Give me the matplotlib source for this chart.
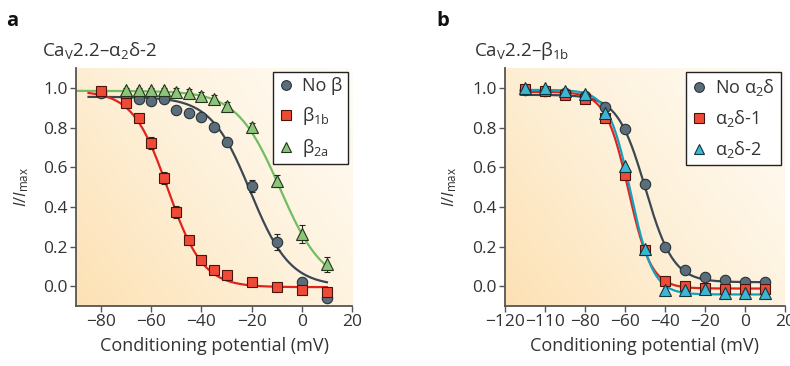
import numpy as np
import matplotlib
matplotlib.use('Agg')
import matplotlib.pyplot as plt
from matplotlib.colors import LinearSegmentedColormap
from matplotlib.lines import Line2D

plt.rcParams['font.family'] = ['Open Sans', 'DejaVu Sans']
plt.rcParams['mathtext.fontset'] = 'custom'
plt.rcParams['mathtext.rm'] = 'Open Sans'
plt.rcParams['mathtext.it'] = 'Open Sans:italic'

# ---- panel a : CaV2.2-a2d-2 ----
a_v = [-80, -70, -65, -60, -55, -50, -45, -40, -35, -30, -20, -10, 0, 10]
a_nob = [0.973, 0.952, 0.944, 0.935, 0.944, 0.887, 0.875, 0.853, 0.803, 0.726, 0.507, 0.223, 0.022, -0.06]
a_nob_err = [0.01, 0.015, 0.015, 0.01, 0.01, 0.01, 0.01, 0.01, 0.015, 0.02, 0.03, 0.04, 0.015, 0.02]
a_b1b = [0.986, 0.924, 0.848, 0.721, 0.547, 0.375, 0.233, 0.132, 0.081, 0.054, 0.023, -0.004, -0.017, -0.03]
a_b1b_err = [0.01, 0.015, 0.01, 0.03, 0.03, 0.03, 0.015, 0.02, 0.01, 0.01, 0.01, 0.01, 0.01, 0.01]
a_v2 = [-70, -65, -60, -55, -50, -45, -40, -35, -30, -20, -10, 0, 10]
a_b2a = [0.991, 0.991, 0.991, 0.991, 0.981, 0.975, 0.961, 0.944, 0.910, 0.801, 0.530, 0.262, 0.110]
a_b2a_err = [0.01, 0.01, 0.01, 0.01, 0.02, 0.02, 0.02, 0.02, 0.02, 0.02, 0.03, 0.045, 0.037]

# Boltzmann fit parameters (top, bottom, V1/2, k)
a_fit_nob = (0.955, 0.0, -20.5, 7.9)
a_fit_b1b = (0.985, -0.005, -53.4, 7.0)
a_fit_b2a = (0.985, 0.0, -8.7, 8.6)

# ---- panel b : CaV2.2-b1b ----
b_v = [-110, -100, -90, -80, -70, -60, -50, -40, -30, -20, -10, 0, 10]
b_noa = [0.99, 0.985, 0.975, 0.96, 0.904, 0.793, 0.513, 0.198, 0.081, 0.047, 0.03, 0.022, 0.022]
b_a1 = [0.995, 0.983, 0.966, 0.944, 0.848, 0.562, 0.18, 0.025, 0.003, -0.007, -0.014, -0.014, -0.014]
b_a2 = [0.998, 1.0, 0.983, 0.97, 0.874, 0.604, 0.185, -0.02, -0.02, -0.015, -0.035, -0.035, -0.035]

b_fit_noa = (0.965, 0.02, -49.7, 7.0)
b_fit_a1 = (0.98, -0.012, -58.2, 5.7)
b_fit_a2 = (0.99, -0.042, -57.1, 5.6)

b_xticks = [-120, -100, -80, -60, -40, -20, 0, 20]
b_xticklabels = ['\u2212120', '\u2212110', '\u221280', '\u221260', '\u221240', '\u221220', '0', '20']


def boltz(v, p):
    top, bot, vh, k = p
    return bot + (top - bot) / (1 + np.exp((v - vh) / k))


gray_f, gray_e, gray_l = '#5c6d7a', '#26323b', '#3a4852'
red_f, red_e, red_l = '#ee4a36', '#4a140c', '#e2231b'
green_f, green_e, green_l = '#8dc47a', '#22331d', '#72bd62'
cyan_f, cyan_e, cyan_l = '#3cb6d2', '#0f3640', '#16a0bf'

bg = LinearSegmentedColormap.from_list('bg', ['#fde1b4', '#fef1da', '#fffcf7'])
txt = '#333333'


def style_ax(ax):
    gx, gy = np.meshgrid(np.linspace(0, 1, 200), np.linspace(0, 1, 200))
    grad = (gx * 0.6 + gy * 0.4)
    ax.imshow(grad, extent=[0, 1, 0, 1], transform=ax.transAxes, cmap=bg,
              aspect='auto', origin='lower', zorder=0)
    for s in ['top', 'right']:
        ax.spines[s].set_visible(False)
    for s in ['left', 'bottom']:
        ax.spines[s].set_color('#555555')
        ax.spines[s].set_linewidth(1.3)
    ax.tick_params(direction='out', length=4, width=1, color='#555555',
                   labelsize=12.5, labelcolor=txt, pad=2)
    ax.set_ylim(-0.1, 1.1)
    ax.set_yticks([0, 0.2, 0.4, 0.6, 0.8, 1.0])
    ax.set_yticklabels(['0.0', '0.2', '0.4', '0.6', '0.8', '1.0'])
    ax.set_xlabel('Conditioning potential (mV)', fontsize=13, color=txt, labelpad=5)
    ax.set_ylabel('$I/I_{\\mathrm{max}}$', fontsize=12, color=txt, labelpad=9)


def make_legend(ax, handles, labels):
    leg = ax.legend(handles, labels, loc='upper right',
                    bbox_to_anchor=(0.985, 0.985), fontsize=13, frameon=True, fancybox=False,
                    handlelength=0.8, handletextpad=0.5, borderpad=0.3, labelspacing=0.55,
                    borderaxespad=0)
    fr = leg.get_frame()
    fr.set_edgecolor('#222222')
    fr.set_linewidth(1.0)
    fr.set_facecolor('white')
    fr.set_alpha(1)
    for t in leg.get_texts():
        t.set_color(txt)
    return leg


fig = plt.figure(figsize=(7.9, 3.66), dpi=100)
ax1 = fig.add_axes([0.0962, 0.164, 0.3494, 0.650])
ax2 = fig.add_axes([0.639, 0.164, 0.3544, 0.650])

# panel a
style_ax(ax1)
ax1.set_xlim(-90, 20)
ax1.set_xticks([-80, -60, -40, -20, 0, 20])
ax1.set_xticklabels(['\u221280', '\u221260', '\u221240', '\u221220', '0', '20'])
vv = np.linspace(-85, 10, 300)
vg = np.linspace(-90, 10, 300)
ax1.plot(vv, boltz(vv, a_fit_nob), color=gray_l, lw=1.6, zorder=2)
ax1.plot(vg, boltz(vg, a_fit_b2a), color=green_l, lw=1.6, zorder=2)
ax1.plot(vv, boltz(vv, a_fit_b1b), color=red_l, lw=1.6, zorder=2)
ax1.errorbar(a_v, a_nob, yerr=a_nob_err, fmt='o', ms=7.5, mfc=gray_f, mec=gray_e, mew=0.8,
             ecolor='#222222', elinewidth=0.8, capsize=2, zorder=3)
ax1.errorbar(a_v, a_b1b, yerr=a_b1b_err, fmt='s', ms=6.8, mfc=red_f, mec=red_e, mew=0.8,
             ecolor='#222222', elinewidth=0.8, capsize=2, zorder=4)
ax1.errorbar(a_v2, a_b2a, yerr=a_b2a_err, fmt='^', ms=8, mfc=green_f, mec=green_e, mew=0.8,
             ecolor='#222222', elinewidth=0.8, capsize=2, zorder=3)
h1 = [Line2D([], [], ls='none', marker='o', ms=7, mfc=gray_f, mec=gray_e, mew=0.8),
      Line2D([], [], ls='none', marker='s', ms=6.5, mfc=red_f, mec=red_e, mew=0.8),
      Line2D([], [], ls='none', marker='^', ms=7.5, mfc=green_f, mec=green_e, mew=0.8)]
make_legend(ax1, h1, ['No β', 'β$_{\\mathrm{1b}}$', 'β$_{\\mathrm{2a}}$'])

# panel b
style_ax(ax2)
ax2.set_xlim(-120, 20)
ax2.set_xticks(b_xticks)
ax2.set_xticklabels(b_xticklabels)
vb = np.linspace(-112, 10, 300)
ax2.plot(vb, boltz(vb, b_fit_noa), color=gray_l, lw=1.6, zorder=2)
ax2.plot(vb, boltz(vb, b_fit_a1), color=red_l, lw=1.6, zorder=2)
ax2.plot(vb, boltz(vb, b_fit_a2), color=cyan_l, lw=1.6, zorder=2)
ax2.plot(b_v, b_noa, 'o', ms=7.5, mfc=gray_f, mec=gray_e, mew=0.8, zorder=3)
ax2.plot(b_v, b_a1, 's', ms=6.8, mfc=red_f, mec=red_e, mew=0.8, zorder=4)
ax2.plot(b_v, b_a2, '^', ms=8, mfc=cyan_f, mec=cyan_e, mew=0.8, zorder=5)
h2 = [Line2D([], [], ls='none', marker='o', ms=7, mfc=gray_f, mec=gray_e, mew=0.8),
      Line2D([], [], ls='none', marker='s', ms=6.5, mfc=red_f, mec=red_e, mew=0.8),
      Line2D([], [], ls='none', marker='^', ms=7.5, mfc=cyan_f, mec=cyan_e, mew=0.8)]
make_legend(ax2, h2, ['No α$_2$δ', 'α$_2$δ-1', 'α$_2$δ-2'])

# titles and panel letters
fig.text(0.053, 0.848, 'Ca$_{\\mathrm{V}}$2.2\u2013α$_2$δ-2', fontsize=13.5, color=txt)
fig.text(0.600, 0.848, 'Ca$_{\\mathrm{V}}$2.2\u2013β$_{\\mathrm{1b}}$', fontsize=13.5, color=txt)
fig.text(0.008, 0.93, 'a', fontsize=14.5, fontweight='bold', color='#111111')
fig.text(0.552, 0.93, 'b', fontsize=14.5, fontweight='bold', color='#111111')

fig.savefig('out.png', dpi=100)
